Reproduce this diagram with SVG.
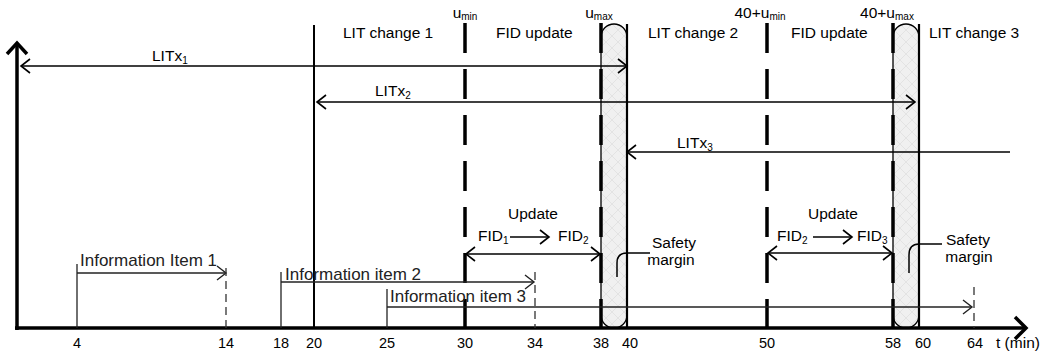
<svg xmlns="http://www.w3.org/2000/svg" width="1043" height="354" viewBox="0 0 1043 354">
<style>
text{font-family:"Liberation Sans",Arial,sans-serif;fill:#000}
.t15{font-size:15.5px}
.tick{font-size:14.5px;text-anchor:middle}
.info{font-size:17px;fill:#222}
.sub{font-size:10px}
.thin{stroke:#000;stroke-width:1.5;fill:none}
.info-l{stroke:#222;stroke-width:1.3;fill:none}
.dash{stroke:#000;stroke-width:3.5;stroke-dasharray:30 16;fill:none}
.idash{stroke:#333;stroke-width:1.3;stroke-dasharray:8 5;fill:none}
.pill{fill:url(#hatch);stroke:#000;stroke-width:1.3}
</style>
<defs>
<pattern id="hatch" width="12" height="12" patternUnits="userSpaceOnUse">
<rect width="12" height="12" fill="#f0f0f0"/>
<path d="M0,0 L12,12 M12,0 L0,12" stroke="#dedede" stroke-width="0.7"/>
</pattern>
<marker id="arr" viewBox="-10 -8 12 16" markerWidth="12" markerHeight="16" refX="0" refY="0" orient="auto-start-reverse" markerUnits="userSpaceOnUse">
<path d="M-9,-7 L0,0 L-9,7" fill="none" stroke="#000" stroke-width="1.6"/>
</marker>
<marker id="arrg" viewBox="-10 -8 12 16" markerWidth="12" markerHeight="16" refX="0" refY="0" orient="auto-start-reverse" markerUnits="userSpaceOnUse">
<path d="M-9,-7 L0,0 L-9,7" fill="none" stroke="#222" stroke-width="1.4"/>
</marker>
</defs>
<rect width="1043" height="354" fill="#fff"/>

<g id="safety-margins">
<rect class="pill" x="601" y="24" width="26" height="304" rx="13"/>
<rect class="pill" x="893" y="24" width="26" height="304" rx="13"/>
</g>

<g id="axes">
<line x1="15" y1="328" x2="1025" y2="328" stroke="#000" stroke-width="3.5"/>
<path d="M1015,317 L1026,328 L1015,339" fill="none" stroke="#000" stroke-width="3.5"/>
<line x1="17" y1="330" x2="17" y2="45" stroke="#000" stroke-width="3.5"/>
<path d="M7,54 L17,43 L27,54" fill="none" stroke="#000" stroke-width="3.5"/>
<text x="996" y="348" class="t15">t (min)</text>
</g>

<g id="ticks">
<text class="tick" x="77" y="348">4</text>
<text class="tick" x="226" y="348">14</text>
<text class="tick" x="281" y="348">18</text>
<text class="tick" x="314" y="348">20</text>
<text class="tick" x="387" y="348">25</text>
<text class="tick" x="465" y="348">30</text>
<text class="tick" x="535" y="348">34</text>
<text class="tick" x="601" y="348">38</text>
<text class="tick" x="630" y="348">40</text>
<text class="tick" x="767" y="348">50</text>
<text class="tick" x="893" y="348">58</text>
<text class="tick" x="923" y="348">60</text>
<text class="tick" x="975" y="348">64</text>
</g>

<g id="time-lines">
<line x1="314" y1="25" x2="314" y2="328" stroke="#000" stroke-width="2"/>
<line class="dash" x1="465" y1="23" x2="465" y2="328"/>
<line class="dash" x1="601" y1="23" x2="601" y2="328"/>
<line x1="627" y1="24" x2="627" y2="328" stroke="#000" stroke-width="2.2"/>
<line class="dash" x1="767" y1="23" x2="767" y2="328"/>
<line class="dash" x1="893" y1="23" x2="893" y2="328"/>
<line x1="919" y1="24" x2="919" y2="328" stroke="#000" stroke-width="2.2"/>
</g>

<g id="top-labels">
<text x="465" y="18" class="t15" text-anchor="middle">u<tspan class="sub" dy="2">min</tspan></text>
<text x="599" y="18" class="t15" text-anchor="middle">u<tspan class="sub" dy="2">max</tspan></text>
<text x="760" y="18" class="t15" text-anchor="middle">40+u<tspan class="sub" dy="2">min</tspan></text>
<text x="887" y="18" class="t15" text-anchor="middle">40+u<tspan class="sub" dy="2">max</tspan></text>
<text x="343" y="38" class="t15">LIT change 1</text>
<text x="496" y="38" class="t15">FID update</text>
<text x="648" y="38" class="t15">LIT change 2</text>
<text x="791" y="38" class="t15">FID update</text>
<text x="929" y="38" class="t15">LIT change 3</text>
</g>

<g id="connectors">
<line class="thin" x1="21" y1="66" x2="627" y2="66" marker-start="url(#arr)" marker-end="url(#arr)"/>
<line class="thin" x1="317" y1="102" x2="915" y2="102" marker-start="url(#arr)" marker-end="url(#arr)"/>
<line class="thin" x1="627" y1="152" x2="1010" y2="152" marker-start="url(#arr)"/>
<line class="thin" x1="510" y1="237" x2="549" y2="237" stroke-width="1.2" marker-end="url(#arr)"/>
<line class="thin" x1="813" y1="237" x2="852" y2="237" stroke-width="1.2" marker-end="url(#arr)"/>
<line class="thin" x1="466" y1="254" x2="600" y2="254" stroke-width="1.2" marker-start="url(#arr)" marker-end="url(#arr)"/>
<line class="thin" x1="768" y1="253" x2="892" y2="253" stroke-width="1.2" marker-start="url(#arr)" marker-end="url(#arr)"/>
<path class="thin" stroke-width="1" d="M650,253 H627 Q617,253 617,263 V277"/>
<path class="thin" stroke-width="1" d="M942,244 H919 Q909,244 909,255 V273"/>
</g>

<g id="lit-labels">
<text x="152" y="61" class="t15">LITx<tspan class="sub" dy="3">1</tspan></text>
<text x="375" y="96" class="t15">LITx<tspan class="sub" dy="3">2</tspan></text>
<text x="677" y="148" class="t15">LITx<tspan class="sub" dy="3">3</tspan></text>
</g>

<g id="update-1">
<text x="533" y="219" class="t15" text-anchor="middle">Update</text>
<text x="478" y="241" class="t15">FID<tspan class="sub" dy="3">1</tspan></text>
<text x="558" y="241" class="t15">FID<tspan class="sub" dy="3">2</tspan></text>
<text x="674" y="248" class="t15" text-anchor="middle">Safety</text>
<text x="671" y="265" class="t15" text-anchor="middle">margin</text>
</g>

<g id="update-2">
<text x="833" y="219" class="t15" text-anchor="middle">Update</text>
<text x="777" y="241" class="t15">FID<tspan class="sub" dy="3">2</tspan></text>
<text x="857" y="241" class="t15">FID<tspan class="sub" dy="3">3</tspan></text>
<text x="968" y="245" class="t15" text-anchor="middle">Safety</text>
<text x="969" y="262" class="t15" text-anchor="middle">margin</text>
</g>

<g id="info-item-1">
<line class="info-l" x1="77" y1="264" x2="77" y2="328"/>
<line class="info-l" x1="77" y1="273" x2="226" y2="273" marker-end="url(#arrg)"/>
<line class="idash" x1="226" y1="268" x2="226" y2="328"/>
<text x="80" y="266" class="info">Information Item 1</text>
</g>

<g id="info-item-2">
<line class="info-l" x1="281" y1="272" x2="281" y2="328"/>
<line class="info-l" x1="281" y1="282" x2="534" y2="282" marker-end="url(#arrg)"/>
<line class="idash" x1="535" y1="272" x2="535" y2="328"/>
<text x="285" y="280" class="info">Information item 2</text>
</g>

<g id="info-item-3">
<line class="info-l" x1="387" y1="289" x2="387" y2="328"/>
<line class="info-l" x1="387" y1="307" x2="972" y2="307" marker-end="url(#arrg)"/>
<line class="idash" x1="974" y1="287" x2="974" y2="328"/>
<text x="390" y="302" class="info">Information item 3</text>
</g>
</svg>
